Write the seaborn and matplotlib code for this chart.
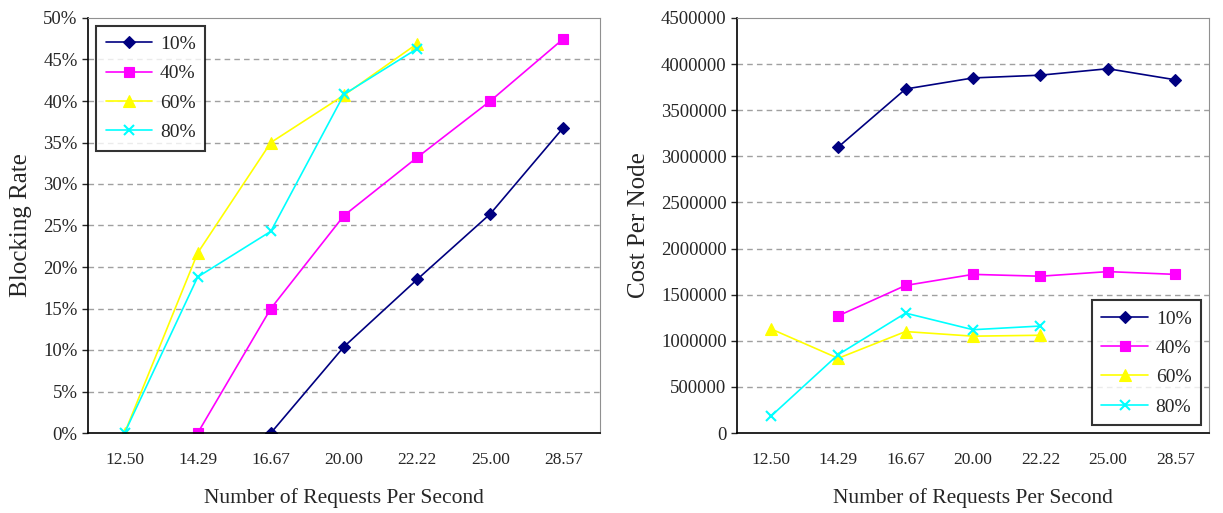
import matplotlib
matplotlib.use("Agg")
import matplotlib.pyplot as plt
import seaborn as sns
import pandas as pd
import numpy as np
from matplotlib.ticker import FixedLocator, FuncFormatter

categories = ["12.50", "14.29", "16.67", "20.00", "22.22", "25.00", "28.57"]
series_names = ["10%", "40%", "60%", "80%"]

# Blocking rate (%), None = missing
block_10 = [None, None, 0.0, 10.4, 18.5, 26.4, 36.8]
block_40 = [None, 0.0, 15.0, 26.2, 33.2, 40.0, 47.5]
block_60 = [0.0, 21.7, 35.0, 40.7, 46.9, None, None]
block_80 = [0.0, 18.8, 24.3, 40.8, 46.3, None, None]

# Cost per node
cost_10 = [None, 3100000, 3730000, 3850000, 3880000, 3950000, 3830000]
cost_40 = [None, 1270000, 1600000, 1720000, 1700000, 1750000, 1720000]
cost_60 = [1130000, 810000, 1100000, 1050000, 1060000, None, None]
cost_80 = [180000, 850000, 1300000, 1120000, 1160000, None, None]

colors = {"10%": "#000080", "40%": "#FF00FF", "60%": "#FFFF00", "80%": "#00FFFF"}
markers = {"10%": "D", "40%": "s", "60%": "^", "80%": "x"}
msizes = {"10%": 6, "40%": 7, "60%": 8, "80%": 7}


def build(lists):
    rows = []
    for name, vals in zip(series_names, lists):
        for i, v in enumerate(vals):
            if v is not None:
                rows.append({"pos": i, "val": v, "series": name})
    return pd.DataFrame(rows)


df_block = build([block_10, block_40, block_60, block_80])
df_cost = build([cost_10, cost_40, cost_60, cost_80])

sns.set_style("white")
plt.rcParams["font.family"] = ["Liberation Serif", "DejaVu Serif"]

fig = plt.figure(figsize=(12.23, 5.13), dpi=100)
ax1 = fig.add_axes([88 / 1223, 1 - 433 / 513, 512 / 1223, 415 / 513])
ax2 = fig.add_axes([737 / 1223, 1 - 433 / 513, 472 / 1223, 415 / 513])


def draw(ax, df, ymax, ystep, fmt, ylabel, legend_loc):
    for name in series_names:
        sub = df[df["series"] == name]
        sns.lineplot(data=sub, x="pos", y="val", ax=ax, color=colors[name],
                     marker=markers[name], markersize=msizes[name],
                     markeredgecolor=colors[name], markeredgewidth=1.5 if name == "80%" else 0.8,
                     linewidth=1.2, label=name, sort=False)
    ax.set_xlim(-0.5, 6.5)
    ax.set_ylim(0, ymax)
    yt = np.arange(0, ymax + ystep / 2, ystep)
    ax.yaxis.set_major_locator(FixedLocator(yt))
    ax.yaxis.set_major_formatter(FuncFormatter(fmt))
    ax.set_xticks(range(len(categories)))
    ax.set_xticklabels(categories)
    ax.set_xticks(np.arange(0.5, 6.0, 1.0), minor=True)
    ax.tick_params(axis="x", which="major", length=0, pad=14, labelsize=12.5)
    ax.tick_params(axis="x", which="minor", length=5, direction="in", width=1)
    ax.tick_params(axis="y", which="major", length=4, direction="out", width=1, labelsize=13.5, left=True)
    for y in yt[1:-1]:
        ax.axhline(y, color="#a0a0a0", linestyle=(0, (4, 3)), linewidth=1, zorder=0)
    ax.spines["left"].set_color("black")
    ax.spines["bottom"].set_color("black")
    ax.spines["left"].set_linewidth(1.2)
    ax.spines["bottom"].set_linewidth(1.2)
    ax.spines["top"].set_color("#909090")
    ax.spines["right"].set_color("#909090")
    ax.set_xlabel("Number of Requests Per Second", fontsize=15.5, labelpad=14)
    ax.set_ylabel(ylabel, fontsize=18, labelpad=8)
    leg = ax.legend(loc=legend_loc, frameon=True, fancybox=False, fontsize=14,
                    handlelength=2.4, borderpad=0.5, labelspacing=0.6, handletextpad=0.4,
                    borderaxespad=0.4)
    leg.get_frame().set_edgecolor("black")
    leg.get_frame().set_linewidth(1.5)


draw(ax1, df_block, 50, 5, lambda v, p: f"{int(round(v))}%", "Blocking Rate", "upper left")
draw(ax2, df_cost, 4500000, 500000, lambda v, p: f"{int(round(v))}", "Cost Per Node", "lower right")

fig.savefig("out.png", dpi=100)
